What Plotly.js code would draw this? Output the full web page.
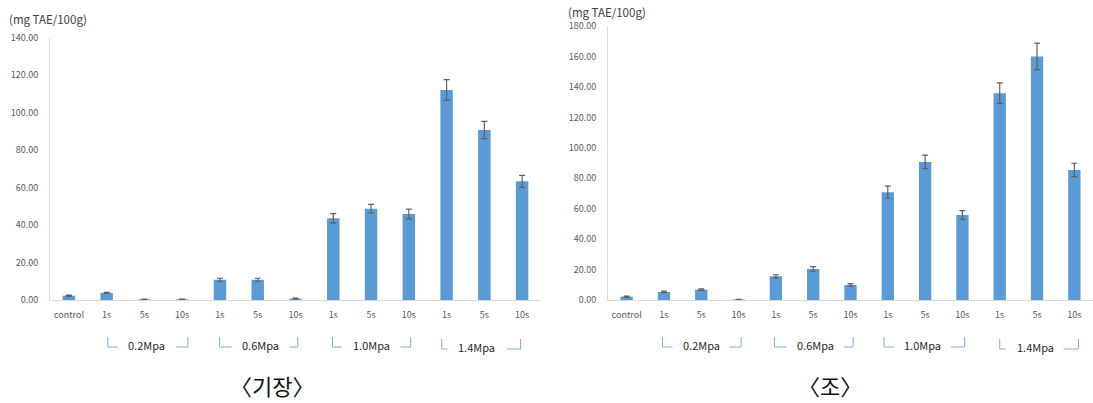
<!DOCTYPE html>
<html>
<head>
<meta charset="utf-8">
<script src="https://cdn.plot.ly/plotly-3.0.1.min.js"></script>
<style>
html,body{margin:0;padding:0;background:#fff;}
#chart{width:1093px;height:403px;}
</style>
</head>
<body>
<div id="chart"></div>
<script>
// ---- data ----
var categories = ['control','1s','5s','10s','1s','5s','10s','1s','5s','10s','1s','5s','10s'];
var groupLabels = ['0.2Mpa','0.6Mpa','1.0Mpa','1.4Mpa'];
var groupStart = [1, 4, 7, 10];
var groupEnd = [3, 6, 9, 12];

var gijangValues = [2.3, 3.8, 0.4, 0.4, 10.8, 10.8, 0.7, 43.6, 48.7, 45.9, 112.0, 90.7, 63.3];
var gijangErrors = [0.3, 0.3, 0.1, 0.1, 0.8, 0.8, 0.3, 2.5, 2.3, 2.6, 5.5, 4.6, 3.2];

var joValues = [2.2, 5.3, 6.8, 0.4, 15.6, 20.4, 9.9, 70.9, 90.8, 55.9, 136.0, 160.1, 85.5];
var joErrors = [0.3, 0.5, 0.5, 0.1, 1.0, 1.5, 0.8, 4.0, 4.4, 2.9, 6.8, 8.8, 4.4];

var chartTitles = ['\u3008기장\u3009', '\u3008조\u3009'];
var yUnit = '(mg TAE/100g)';
var yRanges = [[0, 140], [0, 180]];

// ---- layout helpers ----
var W = 1093, H = 403;
var xDomains = [[50 / W, 541 / W], [608 / W, 1.0]];
var yDomains = [[1 - 300 / H, 1 - 37.5 / H], [1 - 300 / H, 1 - 26.2 / H]];
var idx = categories.map(function (c, i) { return i; });
var FONT = '"Noto Sans CJK KR", "Noto Sans", sans-serif';

function paperX(k, v) {
  var d = xDomains[k];
  return d[0] + (v + 0.5) / categories.length * (d[1] - d[0]);
}

// bracket decoration offsets (in category units), per chart
var bracketDecor = [
  {l0: [0.03, -0.01, -0.02, -0.13], l1: [0.30, 0.31, 0.22, 0.03], r0: [-0.17, -0.15, -0.22, -0.41], r1: [0.15, 0.06, 0.05, -0.04], t: [2.06, 5.08, 8.02, 10.79]},
  {l0: [-0.04, -0.04, -0.10, 0.0], l1: [0.23, 0.28, 0.17, 0.16], r0: [-0.25, -0.17, -0.31, -0.29], r1: [0.07, 0.07, 0.06, 0.11], t: [2.0, 5.05, 7.94, 10.96]}
];

var traces = [
  {
    type: 'bar', x: idx, y: gijangValues, xaxis: 'x', yaxis: 'y',
    marker: {color: '#5b9bd5'},
    width: 0.33,
    error_y: {type: 'data', array: gijangErrors, visible: true, color: '#5f5f5f', thickness: 1.2, width: 3},
    hoverinfo: 'skip'
  },
  {
    type: 'bar', x: idx, y: joValues, xaxis: 'x2', yaxis: 'y2',
    marker: {color: '#5b9bd5'},
    width: 0.33,
    error_y: {type: 'data', array: joErrors, visible: true, color: '#5f5f5f', thickness: 1.2, width: 3},
    hoverinfo: 'skip'
  }
];

function xAxis(k, anchor) {
  return {
    domain: xDomains[k], anchor: anchor, range: [-0.5, categories.length - 0.5],
    tickmode: 'array', tickvals: idx, ticktext: categories,
    showgrid: false, zeroline: false, showline: true, linecolor: '#d9d9d9', linewidth: 1,
    ticks: '', ticklabelstandoff: 6,
    tickfont: {family: FONT, size: 9, color: '#595959'}, fixedrange: true
  };
}
function yAxis(k, anchor) {
  return {
    domain: yDomains[k], anchor: anchor, range: yRanges[k],
    dtick: 20, tickformat: '.2f',
    showgrid: false, zeroline: false, showline: true, linecolor: '#d9d9d9', linewidth: 1,
    ticks: '', ticklabelstandoff: 9,
    tickfont: {family: FONT, size: 9, color: '#595959'}, fixedrange: true
  };
}

var shapes = [];
var annotations = [];
var bracketColor = '#7aaede';
for (var k = 0; k < 2; k++) {
  var dec = bracketDecor[k];
  for (var g = 0; g < groupLabels.length; g++) {
    var yTop = 1 - 337 / H, yBot = 1 - 347 / H;
    if (g === 3) { yTop = 1 - 339 / H; yBot = 1 - 349 / H; }
    var lx0 = paperX(k, groupStart[g] + dec.l0[g]);
    var lx1 = paperX(k, groupStart[g] + dec.l1[g]);
    var rx0 = paperX(k, groupEnd[g] + dec.r0[g]);
    var rx1 = paperX(k, groupEnd[g] + dec.r1[g]);
    shapes.push({type: 'path', xref: 'paper', yref: 'paper',
      path: 'M' + lx0 + ',' + yTop + ' L' + lx0 + ',' + yBot + ' L' + lx1 + ',' + yBot,
      line: {color: bracketColor, width: 1}});
    shapes.push({type: 'path', xref: 'paper', yref: 'paper',
      path: 'M' + rx0 + ',' + yBot + ' L' + rx1 + ',' + yBot + ' L' + rx1 + ',' + yTop,
      line: {color: bracketColor, width: 1}});
    annotations.push({xref: 'paper', yref: 'paper', x: paperX(k, dec.t[g]),
      y: 1 - (g === 3 ? 347 : 345) / H, text: groupLabels[g], showarrow: false,
      xanchor: 'center', yanchor: 'middle',
      font: {family: FONT, size: 11, color: '#262626'}});
  }
}

// unit labels
annotations.push({xref: 'paper', yref: 'paper', x: 7 / W, y: 1 - 19 / H, text: yUnit, showarrow: false,
  xanchor: 'left', yanchor: 'middle', font: {family: FONT, size: 11.5, color: '#404040'}});
annotations.push({xref: 'paper', yref: 'paper', x: 566 / W, y: 1 - 12 / H, text: yUnit, showarrow: false,
  xanchor: 'left', yanchor: 'middle', font: {family: FONT, size: 11.5, color: '#404040'}});

// chart titles
annotations.push({xref: 'paper', yref: 'paper', x: 272 / W, y: 1 - 385 / H, text: chartTitles[0], showarrow: false,
  xanchor: 'center', yanchor: 'middle', font: {family: FONT, size: 22, color: '#111111'}});
annotations.push({xref: 'paper', yref: 'paper', x: 830 / W, y: 1 - 385 / H, text: chartTitles[1], showarrow: false,
  xanchor: 'center', yanchor: 'middle', font: {family: FONT, size: 22, color: '#111111'}});

var layout = {
  width: W, height: H,
  margin: {l: 0, r: 0, t: 0, b: 0},
  paper_bgcolor: '#ffffff', plot_bgcolor: '#ffffff',
  showlegend: false,
  xaxis: xAxis(0, 'y'), yaxis: yAxis(0, 'x'),
  xaxis2: xAxis(1, 'y2'), yaxis2: yAxis(1, 'x2'),
  shapes: shapes, annotations: annotations,
  font: {family: FONT}
};

Plotly.newPlot('chart', traces, layout, {displayModeBar: false, staticPlot: true});
</script>
</body>
</html>
